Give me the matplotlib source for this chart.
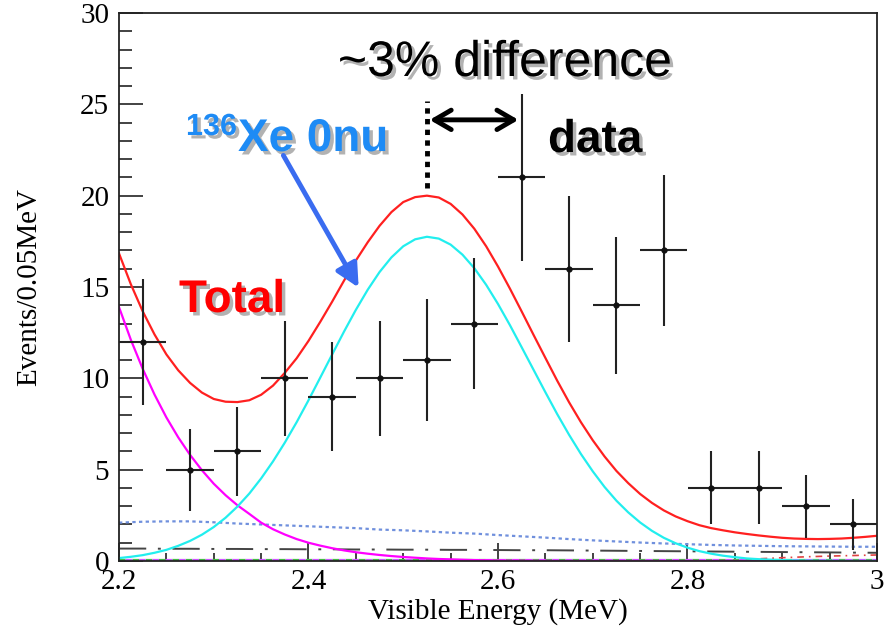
import numpy as np
import matplotlib
matplotlib.use("Agg")
import matplotlib.pyplot as plt
import matplotlib.patheffects as pe
from matplotlib.patches import FancyArrowPatch
from matplotlib.ticker import MultipleLocator

# ---------------- data ----------------
bin_centers = [2.225, 2.275, 2.325, 2.375, 2.425, 2.475, 2.525, 2.575,
               2.625, 2.675, 2.725, 2.775, 2.825, 2.875, 2.925, 2.975]
counts = [12, 5, 6, 10, 9, 10, 11, 13, 21, 16, 14, 17, 4, 4, 3, 2]
count_err = [3.46, 2.24, 2.45, 3.16, 3.0, 3.16, 3.32, 3.61,
             4.58, 4.0, 3.74, 4.12, 2.0, 2.0, 1.73, 1.41]
bin_halfwidth = [0.025] * 16

# fine energy grid for the fit curves
energy_fine = [2.2, 2.2125, 2.225, 2.2375, 2.25, 2.2625, 2.275, 2.2875, 2.3,
               2.3125, 2.325, 2.3375, 2.35, 2.3625, 2.375, 2.3875, 2.4,
               2.4125, 2.425, 2.4375, 2.45, 2.4625, 2.475, 2.4875, 2.5,
               2.5125, 2.525, 2.5375, 2.55, 2.5625, 2.575, 2.5875, 2.6,
               2.6125, 2.625, 2.6375, 2.65, 2.6625, 2.675, 2.6875, 2.7,
               2.7125, 2.725, 2.7375, 2.75, 2.7625, 2.775, 2.7875, 2.8,
               2.8125, 2.825, 2.8375, 2.85, 2.8625, 2.875, 2.8875, 2.9,
               2.9125, 2.925, 2.9375, 2.95, 2.9625, 2.975, 2.9875, 3.0]

total_fit = [16.84, 15.15, 13.67, 12.40, 11.31, 10.44, 9.75, 9.22, 8.87,
             8.72, 8.70, 8.80, 9.10, 9.60, 10.30, 11.10, 12.05,
             13.10, 14.20, 15.35, 16.45, 17.45, 18.35, 19.10, 19.65,
             19.92, 20.00, 19.90, 19.55, 18.97, 18.19, 17.23, 16.12,
             14.92, 13.66, 12.38, 11.12, 9.87, 8.69, 7.60, 6.61,
             5.72, 4.93, 4.26, 3.67, 3.18, 2.77, 2.44, 2.18,
             1.96, 1.80, 1.68, 1.57, 1.48, 1.40, 1.33, 1.27,
             1.23, 1.21, 1.20, 1.21, 1.23, 1.27, 1.32, 1.38]

xe136_0nu = [0.16, 0.23, 0.32, 0.45, 0.61, 0.83, 1.10, 1.44, 1.86,
             2.37, 2.98, 3.69, 4.52, 5.45, 6.48, 7.60, 8.80,
             10.05, 11.31, 12.56, 13.75, 14.85, 15.82, 16.62, 17.23,
             17.61, 17.75, 17.65, 17.32, 16.77, 16.03, 15.12, 14.07,
             12.92, 11.70, 10.47, 9.24, 8.04, 6.91, 5.86, 4.91,
             4.05, 3.30, 2.66, 2.11, 1.65, 1.27, 0.97, 0.73,
             0.54, 0.40, 0.29, 0.21, 0.14, 0.10, 0.07, 0.05,
             0.03, 0.02, 0.01, 0.01, 0.0, 0.0, 0.0, 0.0]

xe136_2nu = [13.90, 12.11, 10.52, 9.11, 7.86, 6.77, 5.81, 4.97, 4.23,
             3.60, 3.05, 2.58, 2.10, 1.74, 1.45, 1.20, 1.00,
             0.84, 0.70, 0.58, 0.48, 0.40, 0.33, 0.27, 0.22,
             0.18, 0.14, 0.11, 0.09, 0.07, 0.05, 0.04, 0.03,
             0.02, 0.02, 0.01, 0.01, 0.0, 0.0, 0.0, 0.0,
             0.0, 0.0, 0.0, 0.0, 0.0, 0.0, 0.0, 0.0,
             0.0, 0.0, 0.0, 0.0, 0.0, 0.0, 0.0, 0.0,
             0.0, 0.0, 0.0, 0.0, 0.0, 0.0, 0.0, 0.0]

# coarse grid for the background curves
energy = [2.200, 2.225, 2.250, 2.275, 2.300, 2.325, 2.350, 2.375, 2.400,
          2.425, 2.450, 2.475, 2.500, 2.525, 2.550, 2.575, 2.600, 2.625,
          2.650, 2.675, 2.700, 2.725, 2.750, 2.775, 2.800, 2.825, 2.850,
          2.875, 2.900, 2.925, 2.950, 2.975, 3.000]

bkg_dotted = [2.1, 2.15, 2.17, 2.17, 2.12, 2.05, 2.0, 1.95, 1.9,
              1.85, 1.8, 1.72, 1.68, 1.62, 1.55, 1.5, 1.42, 1.35,
              1.28, 1.2, 1.13, 1.07, 1.01, 0.96, 0.92, 0.88, 0.85,
              0.83, 0.81, 0.8, 0.79, 0.78, 0.78]

bkg_dashdot = [0.68, 0.68, 0.67, 0.67, 0.66, 0.66, 0.65, 0.65, 0.64,
               0.64, 0.63, 0.63, 0.62, 0.62, 0.61, 0.61, 0.6, 0.59,
               0.59, 0.58, 0.57, 0.56, 0.55, 0.54, 0.53, 0.52, 0.51,
               0.5, 0.49, 0.48, 0.47, 0.46, 0.45]

bkg_red_dd = [0.0, 0.0, 0.0, 0.0, 0.0, 0.0, 0.0, 0.0, 0.0,
              0.0, 0.0, 0.0, 0.0, 0.0, 0.0, 0.0, 0.0, 0.0,
              0.0, 0.0, 0.0, 0.0, 0.0, 0.0, 0.0, 0.0, 0.05,
              0.12, 0.18, 0.23, 0.27, 0.3, 0.33]

flat_x = [2.2, 3.0]
flat_y = [0.03, 0.03]

x_ticks = [2.2, 2.4, 2.6, 2.8, 3.0]
x_ticklabels = ["2.2", "2.4", "2.6", "2.8", "3"]
y_ticks = [0, 5, 10, 15, 20, 25, 30]

# annotation values (data units)
peak_energy = 2.525
data_peak_energy = 2.6245

# ---------------- figure ----------------
W, H = 885, 634
plt.rcParams['font.family'] = ['Liberation Serif', 'DejaVu Serif']
fig = plt.figure(figsize=(W / 100, H / 100), dpi=100)
ax = fig.add_axes([119 / W, 73 / H, 758 / W, 548 / H])

ax.plot(energy, bkg_dotted, color='#7090dd', lw=1.6, ls=(0, (1.5, 1.5)))
ax.plot(energy, bkg_dashdot, color='#444444', lw=1.4, ls=(0, (14, 6, 1.5, 6)))
ax.plot(energy, bkg_red_dd, color='#e04040', lw=1.2, ls=(0, (4, 3, 1, 3)))
ax.plot(flat_x, flat_y, color='#44bb44', lw=1.6, ls=(0, (3, 3)))
ax.plot(flat_x, flat_y, color='#cc55ff', lw=1.6, ls=(3, (3, 3)))
ax.plot(energy_fine, xe136_2nu, color='#ff00ff', lw=1.6)
ax.plot(energy_fine, xe136_0nu, color='#22eeee', lw=1.6)
ax.plot(energy_fine, total_fit, color='#ff2020', lw=1.6)

ax.errorbar(bin_centers, counts, yerr=count_err, xerr=bin_halfwidth,
            fmt='o', ms=3.5, color='#111111', ecolor='#222222',
            elinewidth=1.5, capsize=0, zorder=5)

ax.set_xlim(2.2, 3.0)
ax.set_ylim(0, 30)
ax.set_xticks(x_ticks)
ax.set_xticklabels(x_ticklabels)
ax.set_yticks(y_ticks)
ax.xaxis.set_minor_locator(MultipleLocator(0.05))
ax.yaxis.set_minor_locator(MultipleLocator(1))
ax.tick_params(axis='both', which='both', direction='in', top=False, right=False,
               labelsize=21, width=1.2, color='#222222')
ax.tick_params(axis='y', which='major', length=17, pad=7)
ax.tick_params(axis='y', which='minor', length=9)
ax.tick_params(axis='x', which='major', length=13, pad=6)
ax.tick_params(axis='x', which='minor', length=6)
for s in ax.spines.values():
    s.set_linewidth(1.3)
    s.set_color('#222222')

ax.set_xlabel('Visible Energy (MeV)', fontsize=21, labelpad=2)
ax.set_ylabel('Events/0.05MeV', fontsize=21, labelpad=27)


def px(x, y):
    return (x / W, 1 - y / H)


shadow = [pe.withSimplePatchShadow(offset=(2.5, -2.5), shadow_rgbFace='#555555', alpha=0.45)]
sans = ['Liberation Sans', 'DejaVu Sans']

fig.text(*px(505, 76), '~3% difference', ha='center', va='baseline', fontsize=36,
         family=sans, color='black', path_effects=shadow)
fig.text(*px(548, 152), 'data', ha='left', va='baseline', fontsize=33,
         family=sans, weight='bold', color='black', path_effects=shadow)
fig.text(*px(186, 135), '136', ha='left', va='baseline', fontsize=22,
         family=sans, weight='bold', color='#1E8BF5', path_effects=shadow)
fig.text(*px(238, 151), 'Xe 0nu', ha='left', va='baseline', fontsize=33,
         family=sans, weight='bold', color='#1E8BF5', path_effects=shadow)
fig.text(*px(179, 312), 'Total', ha='left', va='baseline', fontsize=33,
         family=sans, weight='bold', color='#ff0000', path_effects=shadow)

# dotted vertical at fitted peak
ax.plot([peak_energy, peak_energy], [20.4, 25.2], color='black', lw=3.5,
        ls=(0, (1.1, 1.1)), solid_capstyle='butt', zorder=6, clip_on=False)
# double arrow
arr = FancyArrowPatch((peak_energy, 24.15), (data_peak_energy, 24.15),
                      arrowstyle='<->,head_length=0.6,head_width=0.35',
                      mutation_scale=20, lw=3.5, color='black', zorder=6)
ax.add_patch(arr)
# blue arrow
barr = FancyArrowPatch(px(282, 153), px(360, 290), transform=fig.transFigure,
                       arrowstyle='-|>,head_length=0.7,head_width=0.35',
                       mutation_scale=20, lw=3.5, color='#3a6cf0', zorder=6)
fig.patches.append(barr)

fig.savefig('out.png', dpi=100)
